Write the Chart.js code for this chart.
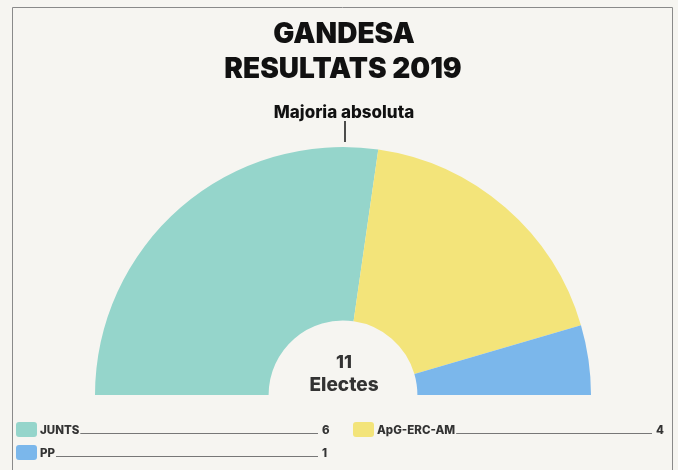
<!DOCTYPE html>
<html><head><meta charset="utf-8">
<script src="https://cdn.jsdelivr.net/npm/chart.js@4"></script>
<style>
html,body{margin:0;padding:0;background:#f6f5f1;}
#wrap{width:678px;height:470px;position:relative;}
canvas{display:block;}
</style>
</head><body>
<div id="wrap"><canvas id="c" width="678" height="470"></canvas></div>
<script>
const parties = ['JUNTS', 'ApG-ERC-AM', 'PP'];
const seats = [6, 4, 1];
const partyColors = ['#95d5cb', '#f3e47a', '#7bb7eb'];
const titleLines = ['GANDESA', 'RESULTATS 2019'];
const majorityLabel = 'Majoria absoluta';
const centerWord = 'Electes';

const FONT = 'Inter, "Open Sans", sans-serif';

const overlay = {
  id: 'overlay',
  afterDraw(chart) {
    const ctx = chart.ctx;
    const arc = chart.getDatasetMeta(0).data[0];
    const cx = arc.x, cy = arc.y, R = arc.outerRadius;
    ctx.save();
    // frame
    ctx.strokeStyle = '#8a8a8a';
    ctx.lineWidth = 1;
    ctx.beginPath();
    ctx.moveTo(12.5, 470); ctx.lineTo(12.5, 7.5); ctx.lineTo(672.5, 7.5); ctx.lineTo(672.5, 470);
    ctx.stroke();
    // title
    ctx.fillStyle = '#111';
    ctx.textAlign = 'center';
    ctx.textBaseline = 'alphabetic';
    ctx.font = '900 28px ' + FONT;
    ctx.fillText(titleLines[0], cx + 1, 43);
    ctx.fillText(titleLines[1], cx, 78);
    // majority label + line
    ctx.font = '800 17px ' + FONT;
    ctx.fillText(majorityLabel, cx + 1, 118);
    ctx.strokeStyle = '#222';
    ctx.lineWidth = 1.6;
    ctx.beginPath();
    ctx.moveTo(cx + 2, cy - R - 5);
    ctx.lineTo(cx + 2, 121);
    ctx.stroke();
    // center text
    const total = seats.reduce((a, b) => a + b, 0);
    ctx.fillStyle = '#333';
    ctx.font = '800 18px ' + FONT;
    ctx.fillText(String(total), cx + 1, 368);
    ctx.font = '800 19px ' + FONT;
    ctx.fillText(centerWord, cx + 1, 391);
    // legend
    const cols = [
      {sx: 16, lx: 40, end: 318, vx: 322},
      {sx: 353, lx: 377, end: 652, vx: 656}
    ];
    const rows = [436, 459];
    ctx.font = '800 11.5px ' + FONT;
    ctx.textAlign = 'left';
    parties.forEach((p, i) => {
      const c = cols[i % 2];
      const y = rows[Math.floor(i / 2)];
      ctx.fillStyle = partyColors[i];
      ctx.beginPath();
      if (ctx.roundRect) ctx.roundRect(c.sx, y - 14, 21, 15, 3); else ctx.rect(c.sx, y - 14, 21, 15);
      ctx.fill();
      ctx.fillStyle = '#333';
      ctx.fillText(p, c.lx, y - 2);
      const w = ctx.measureText(p).width;
      ctx.strokeStyle = '#777';
      ctx.lineWidth = 1;
      ctx.beginPath();
      ctx.moveTo(c.lx + w + 1, y - 2.5);
      ctx.lineTo(c.end, y - 2.5);
      ctx.stroke();
      ctx.fillText(String(seats[i]), c.vx, y - 2);
    });
    ctx.restore();
  }
};

new Chart(document.getElementById('c'), {
  type: 'doughnut',
  data: {
    labels: parties,
    datasets: [{
      data: seats,
      backgroundColor: partyColors,
      borderWidth: 0,
      hoverOffset: 0
    }]
  },
  options: {
    responsive: false,
    maintainAspectRatio: false,
    animation: false,
    rotation: -90,
    circumference: 180,
    cutout: '30%',
    layout: {padding: {left: 95, right: 87, top: 147, bottom: 75}},
    plugins: {legend: {display: false}, tooltip: {enabled: false}, title: {display: false}}
  },
  plugins: [overlay]
});
</script>
</body></html>
